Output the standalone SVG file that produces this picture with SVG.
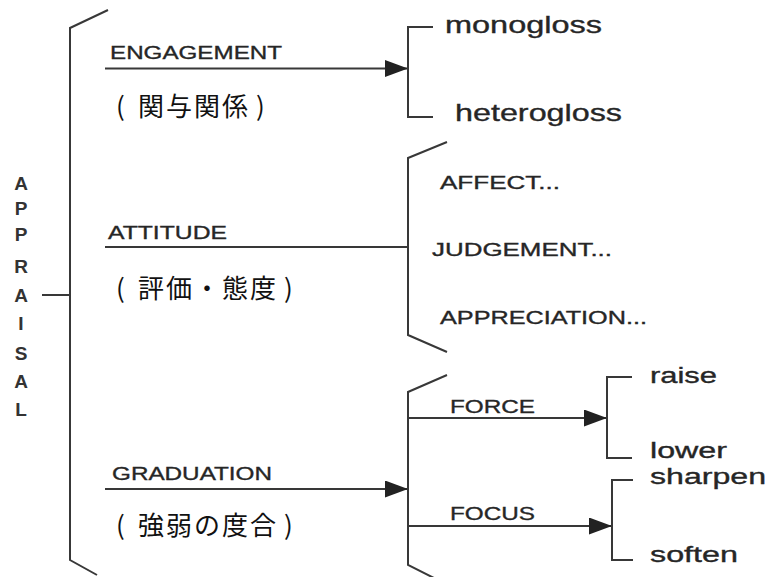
<svg xmlns="http://www.w3.org/2000/svg" width="768" height="577" viewBox="0 0 768 577">
<style>
.ln{fill:none;stroke:#383838;stroke-width:2;stroke-linejoin:miter}
.t{font-family:"Liberation Sans",Arial,sans-serif;fill:#262626;stroke:#262626;stroke-width:0.35}
.cap{font-size:19px}
.big{font-size:24px}
.mid{font-size:22px}
.ap{font-size:19px;text-anchor:middle;font-weight:bold;fill:#333;stroke:none}
.jp{font-family:"Noto Sans CJK JP","Noto Sans CJK SC",sans-serif;font-size:26px;fill:#111}
</style>
<defs>
<marker id="ah" markerUnits="userSpaceOnUse" markerWidth="24" markerHeight="18" refX="23" refY="8.5" orient="auto">
<path d="M0,0 L23,8.5 L0,17 z" fill="#222"/>
</marker>
</defs>
<rect width="768" height="577" fill="#fff"/>
<g id="connectors">
<path class="ln" d="M108,10 L70,28 L70,560 L97,575"/>
<path class="ln" d="M42,295 L70,295"/>
<path class="ln" d="M105,68.5 L408,68.5" marker-end="url(#ah)"/>
<path class="ln" d="M433,27 L408,27 L408,117 L433,117"/>
<path class="ln" d="M105,247 L408,247"/>
<path class="ln" d="M447,142 L408,158 L408,335 L447,352"/>
<path class="ln" d="M105,489 L408,489" marker-end="url(#ah)"/>
<path class="ln" d="M447,375 L408,392 L408,565 L440,581"/>
<path class="ln" d="M408,418 L607,418" marker-end="url(#ah)"/>
<path class="ln" d="M408,526 L612,526" marker-end="url(#ah)"/>
<path class="ln" d="M632,377 L607,377 L607,458 L632,458"/>
<path class="ln" d="M633,480 L612,480 L612,560 L633,560"/>
</g>
<g id="appraisal" class="t ap">
<text x="21" y="190">A</text>
<text x="21" y="215">P</text>
<text x="21" y="241">P</text>
<text x="21" y="273">R</text>
<text x="21" y="302">A</text>
<text x="21" y="330">I</text>
<text x="21" y="360">S</text>
<text x="21" y="388">A</text>
<text x="21" y="416">L</text>
</g>
<g id="engagement">
<text class="t cap" x="110" y="59" textLength="172" lengthAdjust="spacingAndGlyphs">ENGAGEMENT</text>
<text class="jp" x="116 138 166 194 222 256" y="116">(関与関係)</text>
</g>
<g id="monogloss"><text class="t big" x="445" y="33" textLength="157" lengthAdjust="spacingAndGlyphs">monogloss</text></g>
<g id="heterogloss"><text class="t big" x="455" y="121" textLength="167" lengthAdjust="spacingAndGlyphs">heterogloss</text></g>
<g id="attitude">
<text class="t cap" x="108" y="239" textLength="119" lengthAdjust="spacingAndGlyphs">ATTITUDE</text>
<text class="jp" x="116 138 166 194 222 250 284" y="298">(評価・態度)</text>
</g>
<g id="affect"><text class="t cap" x="440" y="189" textLength="120" lengthAdjust="spacingAndGlyphs">AFFECT...</text></g>
<g id="judgement"><text class="t cap" x="432" y="256" textLength="180" lengthAdjust="spacingAndGlyphs">JUDGEMENT...</text></g>
<g id="appreciation"><text class="t cap" x="440" y="324" textLength="207" lengthAdjust="spacingAndGlyphs">APPRECIATION...</text></g>
<g id="graduation">
<text class="t cap" x="112" y="480" textLength="160" lengthAdjust="spacingAndGlyphs">GRADUATION</text>
<text class="jp" x="116 138 166 194 222 250 284" y="535">(強弱の度合)</text>
</g>
<g id="force"><text class="t cap" x="450" y="413" textLength="85" lengthAdjust="spacingAndGlyphs">FORCE</text></g>
<g id="focus"><text class="t cap" x="450" y="520" textLength="85" lengthAdjust="spacingAndGlyphs">FOCUS</text></g>
<g id="raise"><text class="t mid" x="650" y="383" textLength="67" lengthAdjust="spacingAndGlyphs">raise</text></g>
<g id="lower"><text class="t mid" x="650" y="458" textLength="77" lengthAdjust="spacingAndGlyphs">lower</text></g>
<g id="sharpen"><text class="t mid" x="650" y="484" textLength="116" lengthAdjust="spacingAndGlyphs">sharpen</text></g>
<g id="soften"><text class="t mid" x="650" y="562" textLength="88" lengthAdjust="spacingAndGlyphs">soften</text></g>
</svg>
